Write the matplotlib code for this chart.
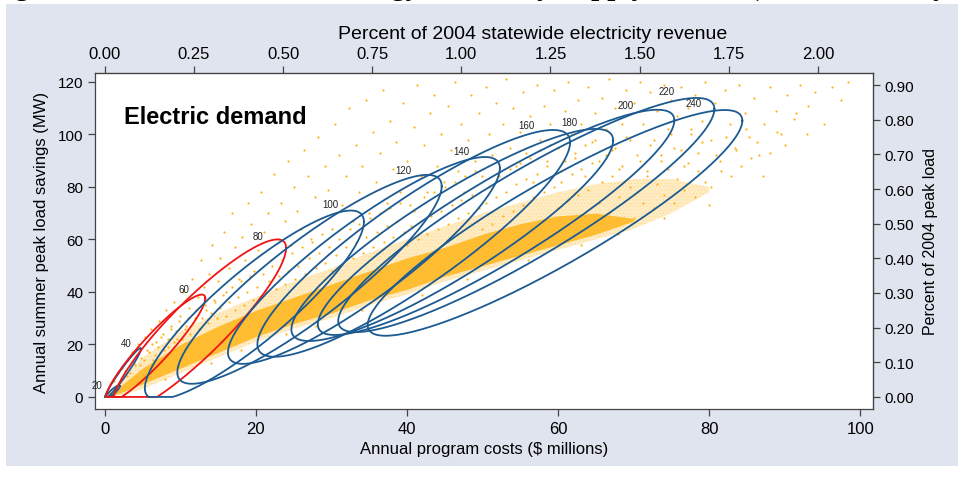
import numpy as np
import matplotlib.pyplot as plt
from matplotlib import font_manager
from matplotlib.patches import Rectangle

# which sans families are available
_names = {f.name for f in font_manager.fontManager.ttflist}
SANS = 'Liberation Sans' if 'Liberation Sans' in _names else 'DejaVu Sans'
NARROW = 'Liberation Sans Narrow' if 'Liberation Sans Narrow' in _names else SANS

# conversion constants for the secondary axes
REVENUE_2004 = 47.2   # $ millions per 1 % of statewide revenue
PEAK_2004 = 132.0     # MW per 1 % of peak load

# scenario ellipses: label, centre, half-extents, correlation, colour
ell_labels = [20, 40, 60, 80, 100, 120, 140, 160, 180, 200, 220, 240]
ell_cx = [1.0, 2.4, 6.7, 12.5, 19.8, 27.1, 34.3, 40.9, 46.0, 51.8, 55.8, 59.6]
ell_cy = [1.8, 9.0, 18.5, 27.0, 35.0, 44.8, 52.0, 58.5, 61.7, 66.5, 69.3, 66.3]
ell_sx = [1.0, 2.4, 6.6, 11.5, 14.5, 17.5, 18.0, 20.7, 21.3, 23.6, 24.9, 24.8]
ell_sy = [2.6, 9.6, 20.5, 33.0, 36.0, 39.8, 39.4, 43.2, 40.4, 42.9, 44.6, 43.0]
ell_rho = [0.90, 0.97, 0.93, 0.90, 0.88, 0.89, 0.89, 0.89, 0.89, 0.905, 0.905, 0.905]
ell_color = ['b', 'b', 'r', 'r', 'b', 'b', 'b', 'b', 'b', 'b', 'b', 'b']
lab_x = [-1.1, 2.8, 10.5, 20.3, 29.9, 39.5, 47.2, 55.8, 61.5, 69.0, 74.4, 78.0]
lab_y = [4.6, 20.6, 41.1, 61.3, 73.5, 86.5, 93.7, 103.6, 104.8, 111.2, 116.6, 112.0]

# dense band of simulated outcomes (lower / upper edges)
band_x = [0, 2, 5, 10, 15, 20, 25, 30, 35, 40, 45, 50, 55, 60, 65, 70, 75, 80]
band_lo = [0, 0.5, 3, 9, 15, 21, 26, 30, 35, 39, 44, 48, 52, 56, 60, 64, 70, 78]
band_hi = [1, 6, 15, 25, 32, 38, 44, 49, 55, 60, 65, 70, 74, 78, 81, 83, 83, 80]
core_x = [0, 2, 5, 10, 15, 20, 25, 30, 35, 40, 45, 50, 55, 60, 65, 70]
core_lo = [0, 1.5, 5, 11, 17, 23, 28, 32, 37, 41, 46, 50, 54, 58, 62, 67]
core_hi = [0.5, 4, 11, 20, 27, 33, 38, 43, 48, 53, 57, 62, 66, 69, 70, 68]

# scattered outcomes away from the band
halo_x = [1.2, 1.8, 2.3, 2.9, 3.1, 3.6, 4.0, 4.4, 4.8, 5.3, 5.6, 6.1, 6.4, 6.8, 7.2, 7.7, 8.1, 8.3, 8.8, 9.2, 9.5, 9.9,
          10.3, 10.8, 11.2, 11.6, 12.0, 12.4, 12.7, 13.1, 13.4, 13.8, 14.2, 14.6, 15.0, 15.3, 15.8, 16.1, 16.5, 16.9, 17.3, 17.7, 18.1, 18.6, 19.0, 19.4, 19.8,
          20.3, 20.7, 21.1, 21.6, 22.0, 22.4, 22.9, 23.3, 23.8, 24.2, 24.6, 25.1, 25.5, 26.0, 26.4, 26.9, 27.3, 27.8, 28.2, 28.7, 29.1, 29.6,
          30.1, 30.5, 31.0, 31.4, 31.9, 32.3, 32.8, 33.2, 33.7, 34.1, 34.6, 35.0, 35.5, 35.9, 36.4, 36.8, 37.3, 37.7, 38.2, 38.6, 39.1, 39.5,
          40.0, 40.4, 40.9, 41.3, 41.8, 42.2, 42.7, 43.1, 43.6, 44.0, 44.5, 44.9, 45.4, 45.8, 46.3, 46.7, 47.2, 47.6, 48.1, 48.5, 49.0, 49.5,
          50.0, 50.4, 50.9, 51.3, 51.8, 52.2, 52.7, 53.1, 53.6, 54.0, 54.5, 54.9, 55.4, 55.8, 56.3, 56.7, 57.2, 57.6, 58.1, 58.5, 59.0, 59.5,
          60.0, 60.4, 60.9, 61.3, 61.8, 62.2, 62.7, 63.1, 63.6, 64.0, 64.5, 64.9, 65.4, 65.8, 66.3, 66.7, 67.2, 67.6, 68.1, 68.5, 69.0, 69.5,
          70.0, 70.4, 70.9, 71.3, 71.8, 72.2, 72.7, 73.1, 73.6, 74.0, 74.5, 74.9, 75.4, 75.8, 76.3, 76.7, 77.2, 77.6, 78.1, 78.5, 79.0, 79.5,
          80.2, 80.8, 81.5, 82.1, 82.8, 83.4, 84.0, 84.7, 85.3, 86.0, 86.6, 87.3, 88.0, 88.8, 89.5, 90.3, 91.2, 92.0, 93.1, 94.0, 95.2, 96.3, 97.5, 98.4]
halo_y = [6, 9, 11, 8, 14, 17, 12, 20, 15, 23, 18, 26, 14, 21, 29, 24, 33, 19, 27, 36, 22, 31,
          40, 27, 34, 45, 30, 38, 52, 42, 33, 47, 58, 36, 44, 53, 63, 40, 49, 70, 57, 45, 61, 52, 74, 66, 48,
          56, 78, 63, 70, 52, 85, 60, 74, 67, 90, 58, 80, 71, 64, 94, 84, 60, 76, 99, 68, 88, 79,
          64, 104, 92, 73, 84, 110, 67, 96, 78, 88, 113, 70, 101, 82, 93, 117, 74, 105, 87, 97, 78, 112,
          90, 73, 103, 119, 84, 96, 78, 108, 115, 88, 100, 82, 111, 94, 120, 86, 104, 78, 98, 115, 90, 108,
          84, 118, 100, 92, 112, 86, 104, 121, 95, 110, 88, 101, 116, 93, 107, 82, 119, 98, 111, 90, 104, 117,
          95, 86, 109, 120, 100, 91, 113, 104, 84, 118, 97, 108, 90, 114, 102, 121, 94, 110, 87, 104, 117, 98,
          112, 92, 120, 104, 86, 116, 98, 109, 90, 119, 102, 113, 95, 107, 118, 88, 110, 100, 115, 93, 105, 120,
          98, 112, 90, 117, 104, 95, 119, 108, 99, 114, 92, 104, 118, 109, 100, 115, 106, 119, 111, 116, 104, 118, 113, 120]

# outcomes lying just around the band edges
edge_x = [2.2, 2.7, 3.3, 3.8, 4.2, 4.7, 5.2, 5.8, 6.3, 6.6, 7.1, 7.5, 7.9, 8.4, 8.7, 9.1, 9.4, 9.8,
          10.2, 10.6, 11.0, 11.3, 11.7, 12.1, 12.5, 12.9, 13.2, 13.6, 14.0, 14.4, 14.8, 15.2, 15.6, 16.0, 16.4, 16.8, 17.2, 17.6, 18.0, 18.4, 18.8, 19.2, 19.6,
          20.1, 20.5, 20.9, 21.3, 21.7, 22.1, 22.6, 23.0, 23.4, 23.9, 24.3, 24.8, 25.2, 25.6, 26.1, 26.5, 27.0, 27.4, 27.9, 28.3, 28.8, 29.2, 29.7,
          30.1, 30.6, 31.0, 31.5, 31.9, 32.4, 32.8, 33.3, 33.7, 34.2, 34.6, 35.1, 35.5, 36.0, 36.4, 36.9, 37.3, 37.8, 38.2, 38.7, 39.1, 39.6,
          40.0, 40.5, 40.9, 41.4, 41.8, 42.3, 42.7, 43.2, 43.6, 44.1, 44.5, 45.0, 45.4, 45.9, 46.3, 46.8, 47.2, 47.7, 48.1, 48.6, 49.0, 49.5,
          50.0, 50.4, 50.9, 51.3, 51.8, 52.2, 52.7, 53.1, 53.6, 54.0, 54.5, 54.9, 55.4, 55.8, 56.3, 56.7, 57.2, 57.6, 58.1, 58.5, 59.0, 59.5,
          60.0, 60.4, 60.9, 61.3, 61.8, 62.2, 62.7, 63.1, 63.6, 64.0, 64.5, 64.9, 65.4, 65.8, 66.3, 66.7, 67.2, 67.6, 68.1, 68.5, 69.0, 69.5,
          70.0, 70.4, 70.9, 71.3, 71.8, 72.2, 72.7, 73.1, 73.6, 74.0, 74.5, 74.9, 75.4, 75.8, 76.3, 76.7, 77.2, 77.6, 78.1, 78.5, 79.0, 79.5,
          80.3, 80.9, 81.6, 82.2, 82.9, 83.5, 84.2, 84.9, 85.6, 86.4, 87.1, 88.0, 89.0, 90.1, 91.5, 93.0,
          8, 14, 18, 24, 28, 34, 42, 48, 56, 63, 68, 74, 80]
edge_y = [7, 10, 9, 13, 16, 12, 14, 17, 20, 16, 19, 23, 18, 22, 26, 21, 25, 29,
          22, 26, 30, 24, 28, 33, 26, 30, 35, 28, 32, 37, 30, 34, 39, 31, 36, 42, 33, 38, 44, 35, 40, 46, 37,
          42, 38, 47, 40, 44, 50, 41, 46, 52, 43, 48, 55, 45, 50, 57, 47, 53, 59, 49, 55, 62, 51, 57,
          48, 54, 60, 51, 57, 64, 53, 59, 66, 55, 61, 68, 57, 63, 70, 59, 65, 72, 61, 67, 74, 63,
          58, 65, 71, 60, 67, 76, 62, 69, 78, 64, 71, 80, 66, 73, 82, 68, 75, 84, 70, 77, 86, 72,
          64, 74, 80, 66, 76, 84, 69, 78, 87, 71, 81, 89, 73, 83, 91, 76, 85, 94, 78, 88, 96, 80,
          72, 82, 90, 75, 85, 93, 77, 87, 96, 79, 89, 98, 74, 82, 92, 70, 84, 95, 76, 88, 99, 80,
          68, 78, 90, 74, 84, 96, 72, 81, 92, 77, 87, 100, 74, 83, 94, 79, 89, 102, 76, 86, 97, 82,
          80, 92, 86, 99, 84, 94, 88, 102, 91, 97, 84, 93, 101, 96, 108, 100,
          7, 13, 18, 24, 27, 33, 39, 45, 52, 58, 62, 68, 73]

DOT = '#ffb20f'
BLUE = '#1c5a92'
RED = '#f01414'
PANEL = '#dfe4ef'

plt.rcParams['hatch.linewidth'] = 0.0

fig = plt.figure(figsize=(9.58, 4.81), dpi=100, facecolor='white')
fig.patches.append(Rectangle((6 / 958, 14 / 481), 1, 462 / 481, transform=fig.transFigure,
                             facecolor=PANEL, edgecolor='none', zorder=-10))
# running heading, mostly above the crop
fig.text(-0.012, 1.0 + 5 / 481, 'Figure 3. Potential Electric Energy Efficiency Supply Curves (Scenario Analysis)',
         family='Liberation Serif', weight='bold', fontsize=21, va='baseline', ha='left')

ax = fig.add_axes([95 / 958, 71 / 481, 778 / 958, 336 / 481])
ax.set_facecolor('white')

# speckled band with a solid core
ax.fill_between(band_x, band_lo, band_hi, facecolor=DOT, alpha=0.25, lw=0, zorder=1)
ax.fill_between(band_x, band_lo, band_hi, facecolor='none', edgecolor=DOT,
                hatch='.....', lw=0, zorder=1)
ax.fill_between(core_x, core_lo, core_hi, color=DOT, alpha=0.8, lw=0, zorder=1)
ax.scatter(halo_x, halo_y, s=2.5, color=DOT, lw=0, zorder=2)
ax.scatter(edge_x, edge_y, s=2.5, color=DOT, lw=0, zorder=2)

t = np.linspace(0, 2 * np.pi, 400)
for lab, cx, cy, sx, sy, rho, c, lx, ly in zip(ell_labels, ell_cx, ell_cy, ell_sx, ell_sy,
                                               ell_rho, ell_color, lab_x, lab_y):
    d = np.arccos(rho)
    ex = cx + sx * np.cos(t)
    ey = np.maximum(cy + sy * np.cos(t - d), 0)
    ax.plot(ex, ey, color=BLUE if c == 'b' else RED, lw=1.3, zorder=3)
    ax.text(lx, ly, str(lab), fontsize=7, color='#222222', ha='center', va='center',
            family=SANS, zorder=4)

ax.text(2.5, 107, 'Electric demand', fontsize=17, weight='bold', family=SANS,
        ha='left', va='center', zorder=5)

ax.set_xlim(-1.3, 101.7)
ax.set_ylim(-4.6, 123.4)
ax.set_xticks([0, 20, 40, 60, 80, 100])
ax.set_yticks([0, 20, 40, 60, 80, 100, 120])
ax.tick_params(direction='out', length=5, width=0.9, color='#444444', labelsize=11)
for lbl in ax.get_xticklabels():
    lbl.set_family(NARROW)
    lbl.set_fontsize(12)
for lbl in ax.get_yticklabels():
    lbl.set_family(SANS)
for sp in ax.spines.values():
    sp.set_color('#444444')
    sp.set_linewidth(0.9)
ax.set_xlabel('Annual program costs ($ millions)', family=NARROW, fontsize=12, labelpad=4)
ax.set_ylabel('Annual summer peak load savings (MW)', family=SANS, fontsize=12, labelpad=6)

top = ax.secondary_xaxis('top', functions=(lambda x: x / REVENUE_2004, lambda p: p * REVENUE_2004))
top.set_xticks([0, 0.25, 0.5, 0.75, 1.0, 1.25, 1.5, 1.75, 2.0])
top.set_xticklabels(['%.2f' % v for v in top.get_xticks()], family=NARROW, fontsize=12)
top.tick_params(direction='out', length=5, width=0.9, color='#444444')
top.set_xlabel('Percent of 2004 statewide electricity revenue', family=NARROW, fontsize=14, labelpad=6)
top.xaxis.label.set_x(0.563)

right = ax.secondary_yaxis('right', functions=(lambda y: y / PEAK_2004, lambda p: p * PEAK_2004))
right.set_yticks([0, 0.1, 0.2, 0.3, 0.4, 0.5, 0.6, 0.7, 0.8, 0.9])
right.set_yticklabels(['%.2f' % v for v in right.get_yticks()], family=SANS, fontsize=11)
right.tick_params(direction='out', length=5, width=0.9, color='#444444')
right.set_ylabel('Percent of 2004 peak load', family=SANS, fontsize=11.5, labelpad=6)

fig.savefig('out.png', dpi=100, facecolor=fig.get_facecolor())
